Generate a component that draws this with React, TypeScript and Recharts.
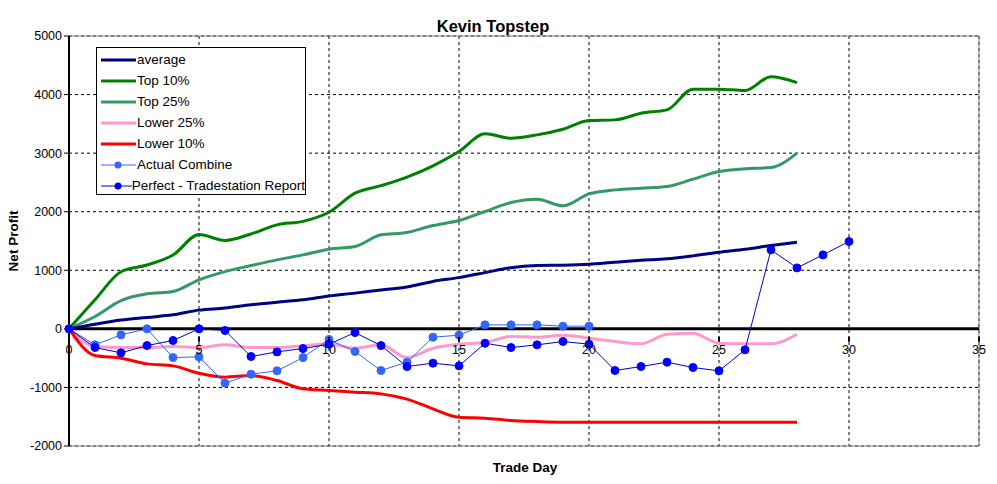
import React from 'react';
import { LineChart, Line, XAxis, YAxis, CartesianGrid, ReferenceLine } from 'recharts';

// values, one entry per trade day
const days = Array.from({ length: 31 }, (_, i) => i);
const average = [0, 80, 150, 195, 240, 320, 355, 410, 455, 495, 560, 610, 665, 715, 810, 875, 960, 1045, 1080, 1087, 1104, 1138, 1170, 1195, 1246, 1309, 1360, 1423, 1480];
const top10 = [0, 495, 975, 1090, 1260, 1610, 1510, 1620, 1776, 1835, 1990, 2317, 2445, 2590, 2783, 3027, 3329, 3255, 3312, 3409, 3557, 3568, 3682, 3739, 4092, 4092, 4069, 4305, 4205];
const top25 = [0, 210, 483, 597, 637, 837, 978, 1081, 1178, 1263, 1360, 1406, 1605, 1645, 1764, 1849, 2003, 2157, 2214, 2100, 2305, 2373, 2402, 2430, 2556, 2686, 2732, 2754, 3000];
const lower25 = [0, -302, -319, -319, -302, -319, -273, -319, -319, -290, -260, -330, -273, -490, -330, -262, -233, -131, -142, -108, -159, -216, -256, -91, -74, -245, -256, -256, -91];
const lower10 = [0, -455, -501, -598, -632, -757, -825, -797, -882, -1024, -1053, -1081, -1110, -1200, -1366, -1508, -1525, -1565, -1582, -1593, -1593, -1593, -1593, -1593, -1593, -1593, -1593, -1593, -1593];
const actualCombine = [0, -273, -102, 0, -490, -478, -927, -774, -717, -490, -180, -387, -711, -569, -142, -108, 68, 68, 68, 46, 46];
const perfect = [0, -319, -410, -285, -199, 0, -28, -472, -393, -336, -262, -63, -285, -643, -586, -632, -245, -319, -273, -216, -262, -711, -643, -569, -660, -717, -358, 1349, 1041, 1263, 1491];
const xTicks = [0, 5, 10, 15, 20, 25, 30, 35];
const yTicks = [-2000, -1000, 0, 1000, 2000, 3000, 4000, 5000];

const data = days.map((d, i) => ({
  day: d,
  average: average[i],
  top10: top10[i],
  top25: top25[i],
  lower25: lower25[i],
  lower10: lower10[i],
  actual: actualCombine[i],
  perfect: perfect[i],
}));

const FONT = 'Arial, "Liberation Sans", sans-serif';
const PLOT_H = 410;
const Y_MIN = -2000;
const Y_MAX = 5000;
// x labels sit just under the zero line, not at the bottom of the plot
const ZERO_OFFSET = (PLOT_H * (0 - Y_MIN)) / (Y_MAX - Y_MIN);

const XTick = (props: any) => {
  const { x, y, payload } = props;
  const y0 = y - ZERO_OFFSET;
  return (
    <g>
      <line x1={x} x2={x} y1={y0} y2={y0 + 5} stroke="#000" strokeWidth={2} />
      <text x={x} y={y0 + 8} dy="0.71em" textAnchor="middle" fontSize={12.5} fontFamily={FONT} fill="#000">
        {payload.value}
      </text>
    </g>
  );
};

const legendItems = [
  { name: 'average', color: '#000080', width: 3 },
  { name: 'Top 10%', color: '#008000', width: 3 },
  { name: 'Top 25%', color: '#339966', width: 3 },
  { name: 'Lower 25%', color: '#FF99CC', width: 3 },
  { name: 'Lower 10%', color: '#FF0000', width: 3 },
  { name: 'Actual Combine', color: '#3366FF', width: 1, dot: '#3366FF' },
  { name: 'Perfect - Tradestation Report', color: '#0000CC', width: 1, dot: '#0000FF' },
];

export default function App() {
  return (
    <div style={{ position: 'absolute', left: 0, top: 0, width: 997, height: 484, background: '#fff', fontFamily: FONT }}>
      <LineChart width={997} height={484} data={data} margin={{ top: 36, right: 18, bottom: 8, left: 0 }}>
        <CartesianGrid stroke="#000" strokeDasharray="3 3" strokeWidth={1} />
        <XAxis
          dataKey="day"
          type="number"
          domain={[0, 35]}
          ticks={xTicks}
          height={30}
          axisLine={{ stroke: '#808080' }}
          tickLine={false}
          tick={<XTick />}
          interval={0}
        />
        <YAxis
          type="number"
          domain={[Y_MIN, Y_MAX]}
          ticks={yTicks}
          width={69}
          axisLine={{ stroke: '#000', strokeWidth: 2 }}
          tickLine={{ stroke: '#000' }}
          tickSize={5}
          tick={{ fontSize: 12.5, fill: '#000', fontFamily: FONT }}
          interval={0}
        />
        <ReferenceLine y={5000} stroke="#808080" strokeWidth={1} />
        <ReferenceLine x={35} stroke="#808080" strokeWidth={1} />
        <ReferenceLine y={0} stroke="#000" strokeWidth={3} />
        <Line dataKey="top10" type="monotone" stroke="#008000" strokeWidth={3} dot={false} isAnimationActive={false} />
        <Line dataKey="top25" type="monotone" stroke="#339966" strokeWidth={3} dot={false} isAnimationActive={false} />
        <Line dataKey="average" type="monotone" stroke="#000080" strokeWidth={3} dot={false} isAnimationActive={false} />
        <Line dataKey="lower25" type="monotone" stroke="#FF99CC" strokeWidth={3} dot={false} isAnimationActive={false} />
        <Line dataKey="lower10" type="monotone" stroke="#FF0000" strokeWidth={3} dot={false} isAnimationActive={false} />
        <Line
          dataKey="actual"
          type="linear"
          stroke="#3366FF"
          strokeWidth={1}
          dot={{ r: 4, fill: '#3366FF', stroke: '#3366FF', strokeWidth: 1 }}
          isAnimationActive={false}
        />
        <Line
          dataKey="perfect"
          type="linear"
          stroke="#0000CC"
          strokeWidth={1}
          dot={{ r: 4, fill: '#0000FF', stroke: '#0000FF', strokeWidth: 1 }}
          isAnimationActive={false}
        />
      </LineChart>

      <div style={{ position: 'absolute', left: 493, top: 17, transform: 'translateX(-50%)', fontWeight: 'bold', fontSize: 16.5, whiteSpace: 'nowrap' }}>
        Kevin Topstep
      </div>
      <div style={{ position: 'absolute', left: 525, top: 460, transform: 'translateX(-50%)', fontWeight: 'bold', fontSize: 13.5, whiteSpace: 'nowrap' }}>
        Trade Day
      </div>
      <div
        style={{
          position: 'absolute',
          left: 13,
          top: 241,
          transform: 'translate(-50%, -50%) rotate(-90deg)',
          fontWeight: 'bold',
          fontSize: 13.5,
          whiteSpace: 'nowrap',
        }}
      >
        Net Profit
      </div>

      <div
        style={{
          position: 'absolute',
          left: 96,
          top: 47,
          width: 210,
          height: 148,
          border: '1px solid #000',
          background: '#fff',
          boxSizing: 'border-box',
          paddingTop: 1,
        }}
      >
        {legendItems.map((it) => (
          <div key={it.name} style={{ height: 21, display: 'flex', alignItems: 'center', fontSize: 13.5 }}>
            <svg width={37} height={12} style={{ marginLeft: 3 }}>
              <line x1={1} x2={36} y1={6} y2={6} stroke={it.color} strokeWidth={it.width} />
              {it.dot && <circle cx={18} cy={6} r={3.5} fill={it.dot} />}
            </svg>
            <span style={{ whiteSpace: 'nowrap' }}>{it.name}</span>
          </div>
        ))}
      </div>
    </div>
  );
}
